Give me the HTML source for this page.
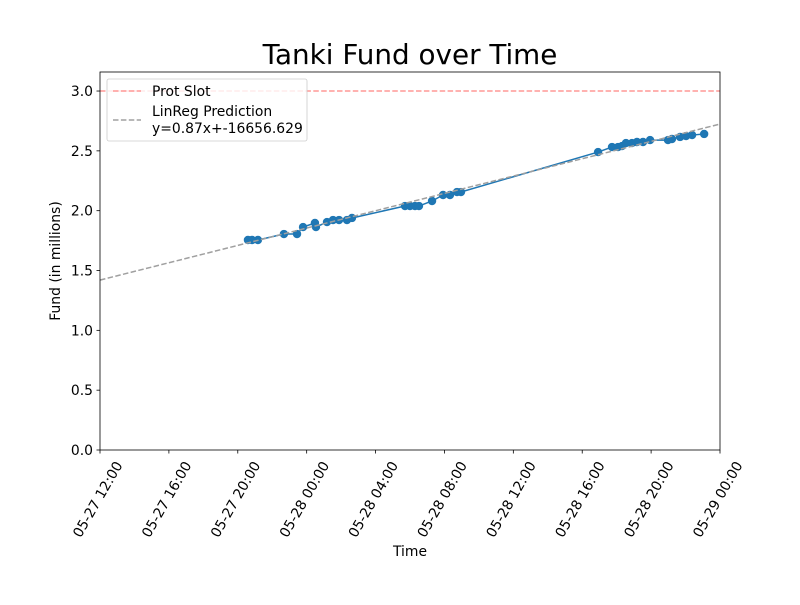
<!DOCTYPE html>
<html><head><meta charset="utf-8"><style>
body{margin:0;background:#fff;}
svg text{font-family:"DejaVu Sans","Liberation Sans",sans-serif;}
</style></head><body>
<svg id="chart" width="800" height="600" viewBox="0 0 800 600" xmlns="http://www.w3.org/2000/svg">
<rect width="800" height="600" fill="#fff"/>
<text x="410" y="64" font-size="27.8" text-anchor="middle">Tanki Fund over Time</text>
<g id="plot"></g>
<text x="410" y="556" font-size="13.9" text-anchor="middle">Time</text>
<text transform="translate(60,261) rotate(-90)" font-size="13.9" text-anchor="middle">Fund (in millions)</text>
</svg>
<script>
// hours since 05-27 00:00
const hours=[20.59,20.83,21.17,22.68,23.44,23.79,24.48,24.54,25.18,25.53,25.88,26.34,26.63,29.71,30.0,30.29,30.52,31.28,31.92,32.32,32.73,32.96,40.92,41.73,42.08,42.31,42.54,42.89,43.18,43.53,43.94,44.98,45.21,45.68,46.03,46.38,47.08];
const fund=[1.755,1.755,1.755,1.805,1.805,1.863,1.897,1.863,1.905,1.922,1.922,1.922,1.939,2.039,2.039,2.039,2.039,2.081,2.131,2.131,2.156,2.156,2.49,2.532,2.532,2.54,2.565,2.565,2.574,2.574,2.59,2.59,2.599,2.616,2.624,2.632,2.641];
const xTickHours=[12,16,20,24,28,32,36,40,44,48];
const xTickLabels=["05-27 12:00","05-27 16:00","05-27 20:00","05-28 00:00","05-28 04:00","05-28 08:00","05-28 12:00","05-28 16:00","05-28 20:00","05-29 00:00"];
const yTicks=[0,0.5,1.0,1.5,2.0,2.5,3.0];
const protSlot=3.0;
const regStart=1.42, regEnd=2.724; // prediction at 12:00 and 48:00
const L=100,R=720,T=72,B=450,X0=12,X1=48,Y0=0,Y1=3.159;
const sx=h=>L+(h-X0)/(X1-X0)*(R-L);
const sy=v=>B-(v-Y0)/(Y1-Y0)*(B-T);
const NS="http://www.w3.org/2000/svg";
const g=document.getElementById('plot');
function mk(t,a,p){const e=document.createElementNS(NS,t);for(const k in a)e.setAttribute(k,a[k]);(p||g).appendChild(e);return e;}
const clip=mk('clipPath',{id:'cp'});mk('rect',{x:L,y:T,width:R-L,height:B-T},clip);
const ps=mk('line',{x1:L,x2:R,y1:sy(protSlot),y2:sy(protSlot),stroke:'#ff9896',"stroke-width":1.5,"stroke-dasharray":"5.5,2.4"});


let d=hours.map((h,i)=>(i?'L':'M')+sx(h)+','+sy(fund[i])).join(' ');
const dl=mk('path',{d:d,fill:'none',stroke:'#1f77b4',"stroke-width":1.5});


hours.forEach((h,i)=>{
  const c=mk('circle',{cx:sx(h),cy:sy(fund[i]),r:4.2,fill:'#1f77b4'});
  
  
});
const rl=mk('line',{x1:sx(X0),x2:sx(X1),y1:sy(regStart),y2:sy(regEnd),stroke:'#a0a0a0',"stroke-width":1.5,"stroke-dasharray":"5.5,2.4","clip-path":"url(#cp)"});


mk('rect',{x:L,y:T,width:R-L,height:B-T,fill:'none',stroke:'#000',"stroke-width":0.8});
yTicks.forEach(v=>{
  const y=sy(v);
  mk('line',{x1:L-3.5,x2:L,y1:y,y2:y,stroke:'#000',"stroke-width":0.8});
  const t=mk('text',{x:L-7,y:y+5,"font-size":13.9,"text-anchor":"end"});t.textContent=v.toFixed(1);
  
  
});
xTickHours.forEach((h,i)=>{
  const x=sx(h);
  mk('line',{x1:x,x2:x,y1:B,y2:B+3.5,stroke:'#000',"stroke-width":0.8});
  const t=mk('text',{transform:`translate(${x+23},${B+15}) rotate(-60)`,"font-size":13.9,"text-anchor":"end"});t.textContent=xTickLabels[i];
  
  
});
const lg=mk('g',{});


mk('rect',{x:107,y:79,width:200,height:62,rx:2,fill:'#fff',"fill-opacity":0.8,stroke:'#ccc',"stroke-width":0.8},lg);
mk('line',{x1:113,x2:141,y1:91,y2:91,stroke:'#ff9896',"stroke-width":1.5,"stroke-dasharray":"5.5,2.4"},lg);
let t1=mk('text',{x:152,y:96,"font-size":13.9},lg);t1.textContent='Prot Slot';
mk('line',{x1:113,x2:141,y1:120,y2:120,stroke:'#a0a0a0',"stroke-width":1.5,"stroke-dasharray":"5.5,2.4"},lg);
let t2=mk('text',{x:152,y:116,"font-size":13.9},lg);t2.textContent='LinReg Prediction';
let t3=mk('text',{x:152,y:133,"font-size":13.9},lg);t3.textContent='y=0.87x+-16656.629';
</script>
</body></html>
